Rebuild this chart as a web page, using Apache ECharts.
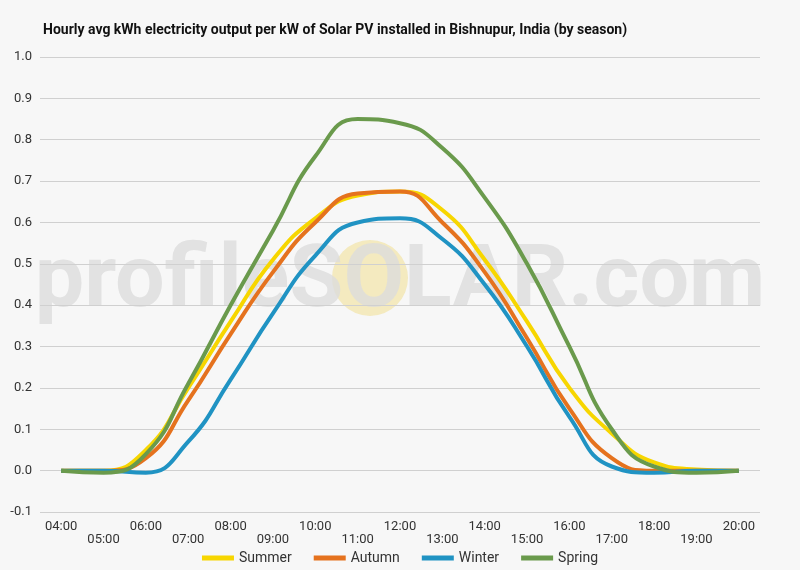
<!DOCTYPE html>
<html><head><meta charset="utf-8">
<script src="https://cdn.jsdelivr.net/npm/echarts@6/dist/echarts.min.js"></script>
<style>html,body{margin:0;background:#f7f7f7}#c{width:800px;height:570px}</style>
</head><body><div id="c"></div>
<script>
const hours=['04:00','05:00','06:00','07:00','08:00','09:00','10:00','11:00','12:00','13:00','14:00','15:00','16:00','17:00','18:00','19:00','20:00'];
const summer=[0,0,0.05,0.2,0.36,0.51,0.61,0.665,0.675,0.63,0.51,0.36,0.2,0.09,0.02,0.003,0];
const autumn=[0,0,0.03,0.17,0.33,0.48,0.6,0.67,0.675,0.6,0.48,0.32,0.15,0.03,0,0,0];
const winter=[0,0,-0.005,0.07,0.22,0.38,0.52,0.6,0.61,0.56,0.45,0.3,0.13,0.01,-0.005,0,0];
const spring=[0,-0.005,0.04,0.21,0.4,0.58,0.76,0.85,0.84,0.78,0.66,0.5,0.3,0.1,0.01,-0.005,0];
const chart=echarts.init(document.getElementById('c'));
const mk=(n,d,c)=>({name:n,type:'line',data:d,smooth:0.5,symbol:'none',lineStyle:{width:4,color:c},itemStyle:{color:c}});
chart.setOption({
 backgroundColor:'#f7f7f7',
 title:{text:'Hourly avg kWh electricity output per kW of Solar PV installed in Bishnupur, India (by season)',left:38,top:18,textStyle:{fontFamily:'Roboto',fontSize:14,fontWeight:'bold',color:'#111'}},
 graphic:[
  {type:'circle',shape:{cx:370,cy:278,r:38},style:{fill:'#f3e6b0',opacity:0.8},z:0},
  {type:'text',left:'center',top:240,style:{text:'profileSOLAR.com',font:'bold 88px Roboto',fill:'#dcdcdc',opacity:0.8},z:0}
 ],
 legend:{bottom:0,itemWidth:32,itemHeight:5,itemGap:22,icon:'rect',textStyle:{fontFamily:'Roboto',fontSize:14,color:'#333'},data:['Summer','Autumn','Winter','Spring']},
 grid:{left:40,right:40,top:57,bottom:58},
 xAxis:{type:'category',data:hours,boundaryGap:true,axisTick:{show:false},axisLine:{show:false},
  axisLabel:{interval:0,fontFamily:'Roboto',fontSize:13,color:'#333',formatter:(v,i)=>i%2?'\n'+v:v}},
 yAxis:{type:'value',min:-0.1,max:1.0,interval:0.1,
  axisLabel:{fontFamily:'Roboto',fontSize:13,color:'#333',formatter:v=>v.toFixed(1)},
  splitLine:{lineStyle:{color:'#d0d0d0'}}},
 series:[mk('Summer',summer,'#f7d600'),mk('Autumn',autumn,'#e5721e'),mk('Winter',winter,'#2093c3'),mk('Spring',spring,'#6a9a4c')]
});
</script></body></html>
